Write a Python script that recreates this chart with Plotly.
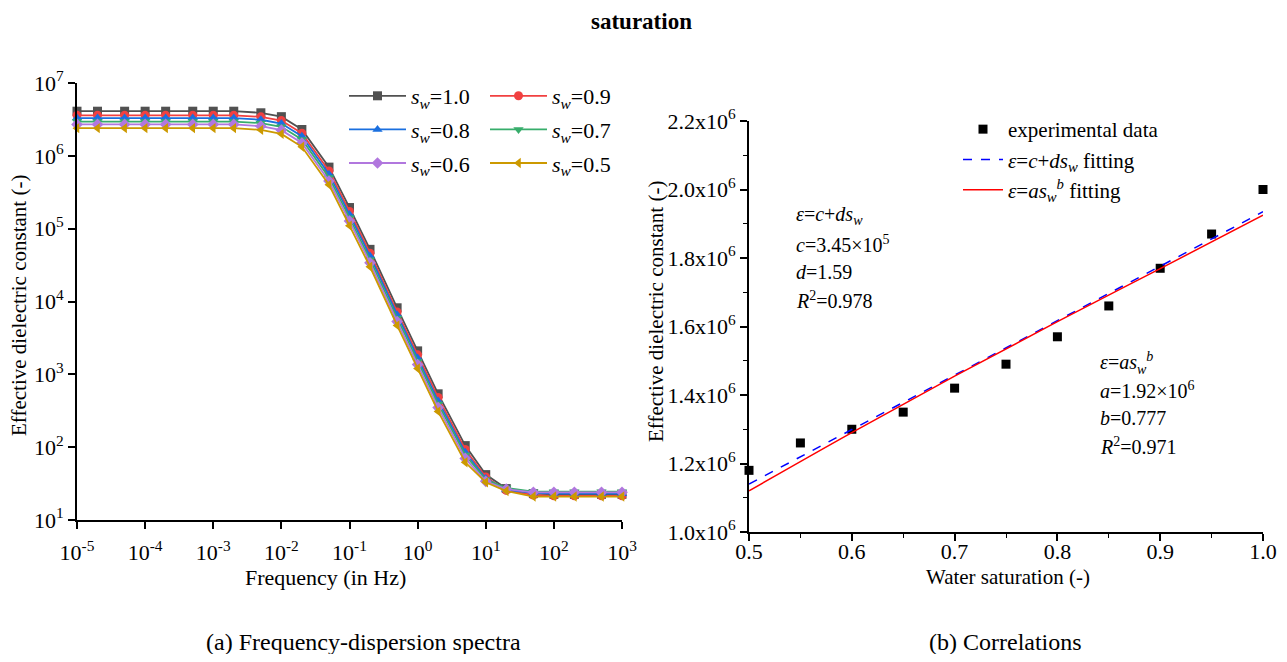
import plotly.graph_objects as go

# frequency (Hz), 1-2-5 steps
freq = [1e-5, 2e-5, 5e-5, 1e-4, 2e-4, 5e-4, 1e-3, 2e-3, 5e-3, 1e-2, 2e-2, 5e-2,
        0.1, 0.2, 0.5, 1, 2, 5, 10, 20, 50, 100, 200, 500, 1000]

eps_10 = [4.1e6, 4.1e6, 4.1e6, 4.1e6, 4.1e6, 4.1e6, 4.1e6, 4.1e6, 3.9e6, 3.45e6, 2.3e6, 7.0e5,
          1.95e5, 5.2e4, 8.2e3, 2.1e3, 5.4e2, 1.05e2, 42, 27, 23, 22.5, 22.5, 22.5, 22.5]
eps_09 = [3.6e6, 3.6e6, 3.6e6, 3.6e6, 3.6e6, 3.6e6, 3.6e6, 3.6e6, 3.43e6, 3.05e6, 2.05e6, 6.2e5,
          1.72e5, 4.6e4, 7.2e3, 1.85e3, 4.8e2, 93, 39, 25.5, 22, 21.5, 21.5, 21.5, 21.5]
eps_08 = [3.3e6, 3.3e6, 3.3e6, 3.3e6, 3.3e6, 3.3e6, 3.3e6, 3.3e6, 3.13e6, 2.78e6, 1.86e6, 5.6e5,
          1.56e5, 4.2e4, 6.6e3, 1.68e3, 4.3e2, 85, 37, 26, 23.5, 23, 23, 23, 23]
eps_07 = [2.95e6, 2.95e6, 2.95e6, 2.95e6, 2.95e6, 2.95e6, 2.95e6, 2.95e6, 2.82e6, 2.5e6, 1.68e6, 5.05e5,
          1.41e5, 3.75e4, 5.9e3, 1.5e3, 3.9e2, 78, 36, 27.5, 24.5, 24.5, 24.5, 24.5, 24.5]
eps_06 = [2.7e6, 2.7e6, 2.7e6, 2.7e6, 2.7e6, 2.7e6, 2.7e6, 2.7e6, 2.55e6, 2.25e6, 1.5e6, 4.5e5,
          1.27e5, 3.4e4, 5.3e3, 1.36e3, 3.5e2, 70, 34, 26.5, 24, 24, 24, 24, 24]
eps_05 = [2.4e6, 2.4e6, 2.4e6, 2.4e6, 2.4e6, 2.4e6, 2.4e6, 2.4e6, 2.27e6, 2.0e6, 1.33e6, 4.0e5,
          1.1e5, 3.0e4, 4.7e3, 1.2e3, 3.1e2, 62, 33, 25, 21, 21, 21, 21, 21]

# right panel
sw = [0.5, 0.55, 0.6, 0.65, 0.7, 0.75, 0.8, 0.85, 0.9, 0.95, 1.0]
eps_exp = [1.18e6, 1.26e6, 1.30e6, 1.35e6, 1.42e6, 1.49e6, 1.57e6, 1.66e6, 1.77e6, 1.87e6, 2.0e6]
sw_lin = [0.5, 1.0]
eps_lin = [1.14e6, 1.935e6]
sw_pow = [0.5, 0.6, 0.7, 0.8, 0.9, 1.0]
eps_pow = [1.12e6, 1.29e6, 1.455e6, 1.614e6, 1.769e6, 1.925e6]

FONT = "Liberation Serif"
SW = "<i>s</i><sub><i>w</i></sub>"

# page body has an 8px margin, so the figure is drawn 8px in from the corner
W, H, OFF = 1271, 646, 8


def px(x):
    return (x - OFF) / W


def py(y):
    return 1 - (y - OFF) / H


series = [
    ("1.0", eps_10, "#515151", "square", "legend"),
    ("0.9", eps_09, "#F14040", "circle", "legend2"),
    ("0.8", eps_08, "#1A6FDF", "triangle-up", "legend"),
    ("0.7", eps_07, "#37AD6B", "triangle-down", "legend2"),
    ("0.6", eps_06, "#B177DE", "diamond", "legend"),
    ("0.5", eps_05, "#CC9900", "triangle-left", "legend2"),
]

fig = go.Figure()
for i, (lab, ys, col, sym, leg) in enumerate(series):
    fig.add_trace(go.Scatter(
        x=freq, y=ys, mode="lines+markers", name=SW + "=" + lab,
        line=dict(color=col, width=1.8), marker=dict(symbol=sym, size=9, color=col),
        cliponaxis=False, legend=leg, legendgroup="g" + str(i),
        xaxis="x", yaxis="y"))

fig.add_trace(go.Scatter(
    x=sw, y=eps_exp, mode="markers", name="experimental data",
    marker=dict(symbol="square", size=9, color="black"),
    cliponaxis=False, legend="legend3", legendgroup="e1", xaxis="x2", yaxis="y2"))
fig.add_trace(go.Scatter(
    x=sw_lin, y=eps_lin, mode="lines",
    name="<i>ε</i>=<i>c</i>+<i>ds</i><sub><i>w</i></sub> fitting",
    line=dict(color="blue", width=1.5, dash="dash"),
    legend="legend3", legendgroup="e2", xaxis="x2", yaxis="y2"))
fig.add_trace(go.Scatter(
    x=sw_pow, y=eps_pow, mode="lines",
    line_shape="spline",
    name="<i>ε</i>=<i>as</i><sub><i>w</i></sub><sup><i>b</i></sup> fitting",
    line=dict(color="red", width=1.5),
    legend="legend3", legendgroup="e3", xaxis="x2", yaxis="y2"))

axis_common = dict(showline=True, linecolor="black", linewidth=1.6, ticks="outside",
                   ticklen=7, tickwidth=1.6, tickcolor="black", showgrid=False,
                   zeroline=False, mirror=False, automargin=False,
                   tickfont=dict(family=FONT, size=22, color="black"))

xt = [-5, -4, -3, -2, -1, 0, 1, 2, 3]
yt = [1, 2, 3, 4, 5, 6, 7]
fig.update_layout(
    xaxis=dict(axis_common, type="log", range=[-5, 3], domain=[px(77), px(622)],
               tickvals=[10 ** v for v in xt], ticktext=["10<sup>%d</sup>" % v for v in xt],
               ticklabelstandoff=5, anchor="y"),
    yaxis=dict(axis_common, type="log", range=[1, 7], domain=[py(520), py(83)],
               tickvals=[10 ** v for v in yt], ticktext=["10<sup>%d</sup>" % v for v in yt],
               anchor="x"),
    xaxis2=dict(axis_common, range=[0.5, 1.0], domain=[px(749), px(1263)],
                tickvals=[0.5, 0.6, 0.7, 0.8, 0.9, 1.0], ticktext=["0.5", "0.6", "0.7", "0.8", "0.9", "1.0"],
                minor=dict(tickvals=[0.55, 0.65, 0.75, 0.85, 0.95], ticklen=4, tickcolor="black", tickwidth=1.4),
                ticklabelstandoff=-8, anchor="y2"),
    yaxis2=dict(axis_common, range=[1.0e6, 2.2e6], domain=[py(532), py(121)],
                tickvals=[1.0e6, 1.2e6, 1.4e6, 1.6e6, 1.8e6, 2.0e6, 2.2e6],
                ticktext=["%.1fx10<sup>6</sup>" % v for v in [1.0, 1.2, 1.4, 1.6, 1.8, 2.0, 2.2]],
                minor=dict(tickvals=[1.1e6, 1.3e6, 1.5e6, 1.7e6, 1.9e6, 2.1e6], ticklen=4, tickcolor="black", tickwidth=1.4),
                anchor="x2"),
    legend=dict(x=px(344), y=py(75), xanchor="left", yanchor="top", bgcolor="rgba(0,0,0,0)",
                font=dict(family=FONT, size=22, color="black"), tracegroupgap=2, itemwidth=57),
    legend2=dict(x=px(485), y=py(75), xanchor="left", yanchor="top", bgcolor="rgba(0,0,0,0)",
                 font=dict(family=FONT, size=22, color="black"), tracegroupgap=2, itemwidth=57),
    legend3=dict(x=px(958), y=py(109), xanchor="left", yanchor="top", bgcolor="rgba(0,0,0,0)",
                 font=dict(family=FONT, size=21, color="black"), tracegroupgap=0, itemwidth=40),
    width=W, height=H, margin=dict(l=0, r=0, t=0, b=0),
    plot_bgcolor="white", paper_bgcolor="white",
    font=dict(family=FONT, color="black"),
)


def note(text, x, y, size, angle=0, anchor="center"):
    fig.add_annotation(text=text, xref="paper", yref="paper", x=px(x), y=py(y),
                       xanchor=anchor, yanchor="middle", showarrow=False, textangle=angle,
                       font=dict(family=FONT, size=size, color="black"))


# axis titles
note("Frequency (in Hz)", 325, 577, 22)
note("Effective dielectric constant (-)", 19, 306, 21, angle=-90)
note("Water saturation (-)", 1008, 577, 21)
note("Effective dielectric constant (-)", 656, 312, 21, angle=-90)

left_notes = ["<i>ε</i>=<i>c</i>+<i>ds</i><sub><i>w</i></sub>", "<i>c</i>=3.45×10<sup>5</sup>",
              "<i>d</i>=1.59", "<i>R</i><sup>2</sup>=0.978"]
right_notes = ["<i>ε</i>=<i>as</i><sub><i>w</i></sub><sup><i>b</i></sup>", "<i>a</i>=1.92×10<sup>6</sup>",
               "<i>b</i>=0.777", "<i>R</i><sup>2</sup>=0.971"]
for k, t in enumerate(left_notes):
    note(t, 794, 216 + k * 28, 20, anchor="left")
for k, t in enumerate(right_notes):
    note(t, 1098, 363 + k * 27.5, 20, anchor="left")

note("<b>saturation</b>", 641, 21, 23)
note("(a) Frequency-dispersion spectra", 363, 642, 24)
note("(b) Correlations", 1006, 642, 24)

fig.write_html("out.html")
